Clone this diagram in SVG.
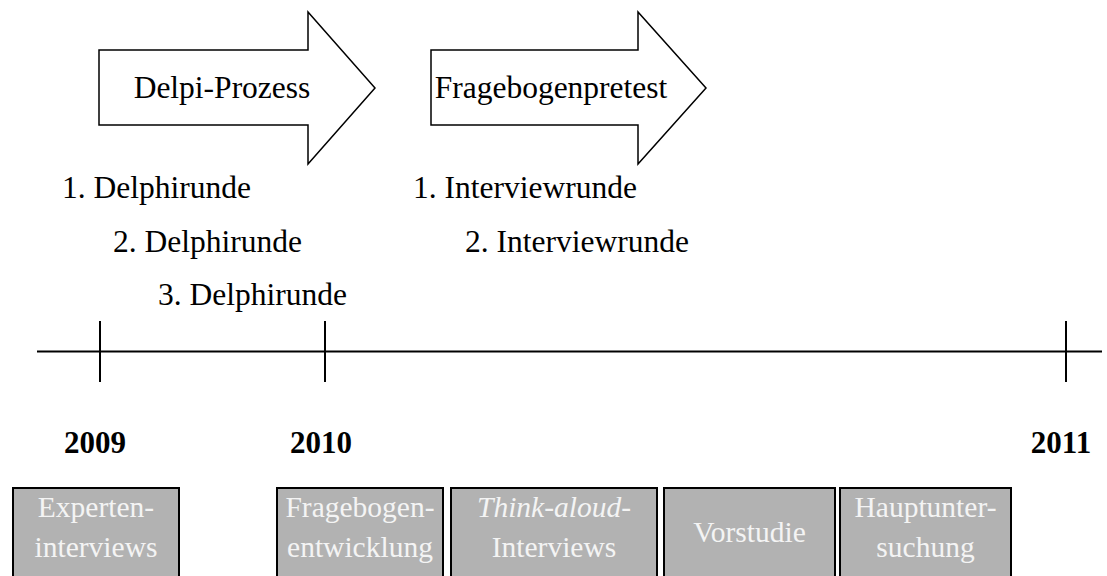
<svg xmlns="http://www.w3.org/2000/svg" width="1107" height="576" viewBox="0 0 1107 576">
  <style>
    .serif { font-family: "Liberation Serif", "Times New Roman", serif; }
    .arrow { fill: #ffffff; stroke: #000000; stroke-width: 1.5; stroke-linejoin: miter; }
    .arrow-label { font-size: 31.5px; fill: #000000; text-anchor: middle; }
    .round { font-size: 31.5px; fill: #000000; }
    .axis { stroke: #000000; stroke-width: 2; fill: none; }
    .year { font-size: 31px; font-weight: bold; fill: #000000; text-anchor: middle; }
    .phase { fill: #b2b2b2; stroke: #000000; stroke-width: 2; }
    .phase-label { font-size: 29.5px; fill: #f4f4f4; text-anchor: middle; }
  </style>

  <!-- Process arrows -->
  <g id="arrow-delphi">
    <polygon class="arrow" points="99,50 308,50 308,12 375,88 308,164 308,125 99,125"/>
    <text class="serif arrow-label" x="222" y="98">Delpi-Prozess</text>
  </g>
  <g id="arrow-pretest">
    <polygon class="arrow" points="431,50 638,50 638,12 706,88 638,164 638,125 431,125"/>
    <text class="serif arrow-label" x="551" y="98">Fragebogenpretest</text>
  </g>

  <!-- Rounds -->
  <g id="delphi-rounds">
    <text class="serif round" x="62" y="198">1. Delphirunde</text>
    <text class="serif round" x="113" y="252">2. Delphirunde</text>
    <text class="serif round" x="158" y="305">3. Delphirunde</text>
  </g>
  <g id="interview-rounds">
    <text class="serif round" x="413" y="198">1. Interviewrunde</text>
    <text class="serif round" x="465" y="252">2. Interviewrunde</text>
  </g>

  <!-- Time axis -->
  <g id="timeline">
    <line class="axis" x1="37" y1="351.5" x2="1102" y2="351.5"/>
    <line class="axis" x1="100" y1="321" x2="100" y2="382"/>
    <line class="axis" x1="325" y1="321" x2="325" y2="382"/>
    <line class="axis" x1="1066" y1="321" x2="1066" y2="382"/>
    <text class="serif year" x="95" y="453">2009</text>
    <text class="serif year" x="321" y="453">2010</text>
    <text class="serif year" x="1061" y="453">2011</text>
  </g>

  <!-- Phases -->
  <g id="phase-experten">
    <rect class="phase" x="13" y="488" width="166" height="92"/>
    <text class="serif phase-label" x="96" y="517">Experten-</text>
    <text class="serif phase-label" x="96" y="557">interviews</text>
  </g>
  <g id="phase-entwicklung">
    <rect class="phase" x="277" y="488" width="166" height="92"/>
    <text class="serif phase-label" x="360" y="517">Fragebogen-</text>
    <text class="serif phase-label" x="360" y="557">entwicklung</text>
  </g>
  <g id="phase-thinkaloud">
    <rect class="phase" x="451" y="488" width="206" height="92"/>
    <text class="serif phase-label" x="554" y="517" font-style="italic">Think-aloud<tspan font-style="normal">-</tspan></text>
    <text class="serif phase-label" x="554" y="557">Interviews</text>
  </g>
  <g id="phase-vorstudie">
    <rect class="phase" x="664" y="488" width="171" height="92"/>
    <text class="serif phase-label" x="749.5" y="542">Vorstudie</text>
  </g>
  <g id="phase-haupt">
    <rect class="phase" x="840" y="488" width="171" height="92"/>
    <text class="serif phase-label" x="925.5" y="517">Hauptunter-</text>
    <text class="serif phase-label" x="925.5" y="557">suchung</text>
  </g>
</svg>
